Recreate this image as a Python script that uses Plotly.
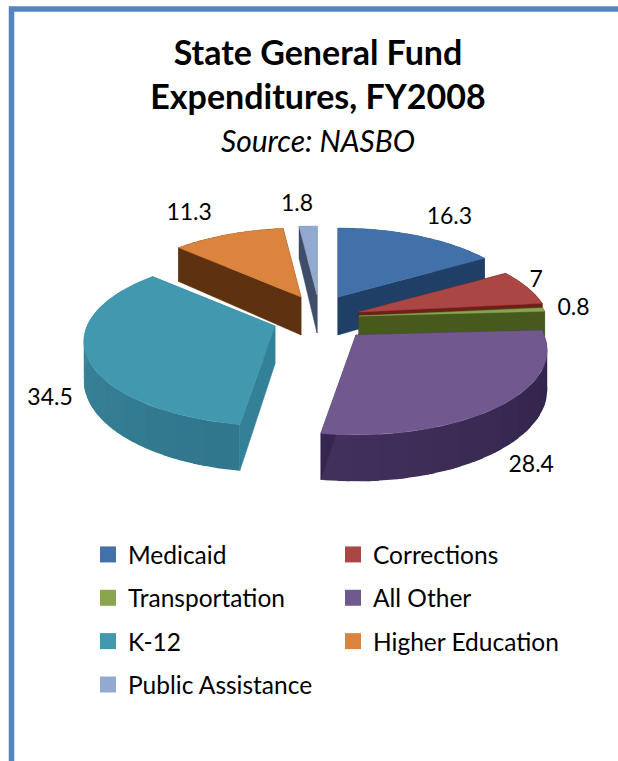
import numpy as np
import plotly.graph_objects as go

# ---- data ----
CATEGORIES = ["Medicaid", "Corrections", "Transportation", "All Other", "K-12", "Higher Education", "Public Assistance"]
VALUES = [16.3, 7, 0.8, 28.4, 34.5, 11.3, 1.8]
VALUE_LABELS = ["16.3", "7", "0.8", "28.4", "34.5", "11.3", "1.8"]

# ---- style ----
TOP_COLORS = ["#4270A8", "#AA4643", "#89A54E", "#71588F", "#4198AF", "#DB843D", "#93A9CF"]
RIM_START = [(31, 63, 102), (110, 31, 26), (70, 90, 30), (46, 34, 72), (48, 118, 140), (94, 50, 16), (63, 77, 105)]
RIM_END = [(31, 63, 102), (110, 31, 26), (70, 90, 30), (66, 48, 92), (62, 140, 160), (94, 50, 16), (63, 77, 105)]
WALL_COLORS = ["#1F3F66", "#6E1F1A", "#465A1E", "#35264F", "#338197", "#5E3210", "#3F4D69"]
# exploded-slice apex in screen pixels, per slice
APEX_X = [338, 359, 359, 356, 275, 301, 317]
APEX_Y = [297, 312, 316, 335, 326, 297, 295]
LABEL_DX = [32, 9, 30, 29, -36, -39, -11]
LABEL_DY = [-17, -6, 0, 61, 45, -20, -21]
DRAW_ORDER = [6, 0, 5, 1, 2, 4, 3]
RX, RY, PERSP, DEPTH = 188.0, 81.6, 0.183, 38.0
FONT = "Lato, Carlito, Calibri, sans-serif"


def project(theta, r=1.0):
    """Screen offset of a point on the disc at clockwise angle theta from the top."""
    depth_axis = -np.cos(theta) * r
    s = 1.0 / (1.0 - PERSP * depth_axis)
    return RX * np.sin(theta) * r * s, RY * depth_axis * s, s


total = sum(VALUES)
edges = np.concatenate([[0], np.cumsum(VALUES)]) / total * 2 * np.pi

fig = go.Figure()


def poly(xs, ys, color, name, width=0.5):
    fig.add_trace(go.Scatter(x=xs, y=ys, mode="lines", fill="toself", fillcolor=color,
                             line=dict(color=color, width=width), showlegend=False,
                             hoverinfo="skip", name=name))


for i in DRAW_ORDER:
    a0, a1 = edges[i], edges[i + 1]
    ax, ay = APEX_X[i], APEX_Y[i]
    # outer rim, shaded in steps along the arc; the overlap hides seams between steps
    steps = 14
    step = (a1 - a0) / steps
    for j in range(steps):
        th = np.linspace(a0 + step * j, min(a1, a0 + step * (j + 1.4)), 8)
        dx, dy, s = project(th)
        px, py = ax + dx, ay + dy
        d = DEPTH * s
        t = j / (steps - 1)
        rgb = [round(RIM_START[i][c] + (RIM_END[i][c] - RIM_START[i][c]) * t) for c in range(3)]
        poly(np.r_[px, px[::-1], px[0]], np.r_[py, (py + d)[::-1], py[0]],
             "rgb(%d,%d,%d)" % tuple(rgb), CATEGORIES[i], width=0)
    th = np.linspace(a0, a1, 80)
    dx, dy, s = project(th)
    px, py = ax + dx, ay + dy
    d = DEPTH * s
    # the two cut walls
    for k in (0, -1):
        poly([ax, px[k], px[k], ax, ax], [ay, py[k], py[k] + d[k], ay + DEPTH, ay], WALL_COLORS[i], CATEGORIES[i])
    # top face
    poly(np.r_[ax, px, ax], np.r_[ay, py, ay], TOP_COLORS[i], CATEGORIES[i])

# value labels, anchored on the rim at each slice's mid angle
lx, ly = [], []
for i in range(len(VALUES)):
    mx, my, _ = project((edges[i] + edges[i + 1]) / 2)
    lx.append(APEX_X[i] + mx + LABEL_DX[i])
    ly.append(APEX_Y[i] + my + LABEL_DY[i])
fig.add_trace(go.Scatter(x=lx, y=ly, mode="text", text=VALUE_LABELS, showlegend=False, hoverinfo="skip",
                         textfont=dict(family=FONT, size=23, color="#000000")))

# legend entries
for i, c in enumerate(CATEGORIES):
    fig.add_trace(go.Scatter(x=[None], y=[None], mode="markers", name=c,
                             marker=dict(symbol="square", size=16, color=TOP_COLORS[i]),
                             legend="legend" if i % 2 == 0 else "legend2",
                             legendgroup=c))

legend_common = dict(bgcolor="rgba(0,0,0,0)", font=dict(family=FONT, size=24.5, color="#000000"),
                     itemsizing="trace", tracegroupgap=8.5, xanchor="left", yanchor="top",
                     orientation="v", traceorder="grouped")

fig.update_layout(
    width=618, height=761, autosize=False,
    margin=dict(l=0, r=0, t=0, b=0),
    paper_bgcolor="#FFFFFF", plot_bgcolor="#FFFFFF",
    title=dict(text="<b>State General Fund<br>Expenditures, FY2008</b>", x=318 / 618, xanchor="center",
               y=1 - 65 / 761, yanchor="top", font=dict(family=FONT, size=34, color="#000000")),
    xaxis=dict(range=[0, 618], visible=False, fixedrange=True),
    yaxis=dict(range=[761, 0], visible=False, fixedrange=True),
    legend=dict(x=88 / 618, y=1 - 532 / 761, **legend_common),
    legend2=dict(x=333 / 618, y=1 - 532 / 761, **legend_common),
    annotations=[dict(text="<i>Source: NASBO</i>", x=318, y=140, xref="x", yref="y", showarrow=False,
                      font=dict(family=FONT, size=30, color="#000000"))],
    shapes=[dict(type="rect", xref="x", yref="y", x0=11.5, y0=9, x1=700, y1=900,
                 line=dict(color="#5585C0", width=5.5), fillcolor="rgba(0,0,0,0)", layer="above")],
)

fig.write_html("out.html", config={"displayModeBar": False},
               post_script="document.body.style.margin='0';")
